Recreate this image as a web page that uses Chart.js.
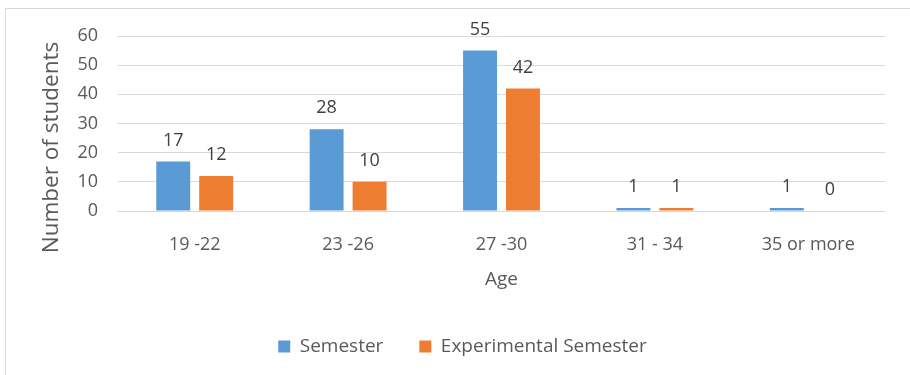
<!DOCTYPE html>
<html>
<head>
<meta charset="utf-8">
<script src="https://cdn.jsdelivr.net/npm/chart.js@4.4.1/dist/chart.umd.min.js"></script>
<style>
 html, body { margin: 0; padding: 0; background: #fff; }
 #wrap { position: relative; width: 910px; height: 375px; overflow: hidden; }
 #frame { position: absolute; left: 5px; top: 8px; width: 1000px; height: 500px; border: 1px solid #d9d9d9; box-sizing: border-box; }
 #ageChart { position: absolute; left: 0; top: 0; }
</style>
</head>
<body>
<div id="wrap">
 <div id="frame"></div>
 <canvas id="ageChart" width="910" height="375"></canvas>
</div>
<script>
var ageGroups = ["19 -22", "23 -26", "27 -30", "31 - 34", "35 or more"];
var semesterCounts = [17, 28, 55, 1, 1];
var experimentalCounts = [12, 10, 42, 1, 0];
var yTicks = [0, 10, 20, 30, 40, 50, 60];

var textColor = "#595959";
var fontFamily = "'Open Sans', Lato, sans-serif";

// value labels above each bar
var barValueLabels = {
 id: "barValueLabels",
 afterDatasetsDraw: function (chart) {
  var ctx = chart.ctx;
  ctx.save();
  ctx.fillStyle = "#404040";
  ctx.font = "18px " + fontFamily;
  ctx.textAlign = "center";
  ctx.textBaseline = "middle";
  chart.data.datasets.forEach(function (ds, i) {
   chart.getDatasetMeta(i).data.forEach(function (bar, j) {
    ctx.fillText(ds.data[j], bar.x, bar.y - 21);
   });
  });
  ctx.restore();
 }
};

// y title sits lower than the plot centre, so draw it by hand
var yAxisTitle = {
 id: "yAxisTitle",
 afterDraw: function (chart) {
  var ctx = chart.ctx;
  var y = chart.scales.y;
  ctx.save();
  ctx.translate(52, (y.top + y.bottom) / 2 + 24);
  ctx.rotate(-Math.PI / 2);
  ctx.fillStyle = textColor;
  ctx.font = "22.5px " + fontFamily;
  ctx.textAlign = "center";
  ctx.textBaseline = "middle";
  ctx.fillText("Number of students", 0, 0);
  ctx.restore();
 }
};

new Chart(document.getElementById("ageChart"), {
 type: "bar",
 data: {
  labels: ageGroups,
  datasets: [
   {
    label: "Semester",
    data: semesterCounts,
    backgroundColor: "#5b9bd5",
    categoryPercentage: 0.56,
    barPercentage: 0.79,
   },
   {
    label: "Experimental Semester",
    data: experimentalCounts,
    backgroundColor: "#ed7d31",
    categoryPercentage: 0.56,
    barPercentage: 0.79,
   },
  ],
 },
 options: {
  responsive: false,
  animation: false,
  layout: { padding: { left: 40, right: 25, top: 36, bottom: 9 } },
  plugins: {
   tooltip: { enabled: false },
   legend: {
    position: "bottom",
    labels: {
     color: textColor,
     font: { family: fontFamily, size: 19 },
     boxWidth: 12,
     boxHeight: 12,
     padding: 36,
    },
   },
  },
  scales: {
   x: {
    grid: { display: false },
    border: { display: false },
    ticks: { color: textColor, font: { family: fontFamily, size: 18 }, padding: 15 },
    title: {
     display: true,
     text: "Age",
     color: textColor,
     font: { family: fontFamily, size: 19 },
     padding: { top: 0, bottom: 10 },
    },
    afterFit: function (axis) { axis.height = 90; },
   },
   y: {
    min: 0,
    max: 60,
    afterBuildTicks: function (axis) {
     axis.ticks = yTicks.map(function (v) { return { value: v }; });
    },
    grid: { color: "#d9d9d9", drawTicks: false },
    border: { display: false },
    ticks: { color: textColor, font: { family: fontFamily, size: 18 }, padding: 20 },
    afterFit: function (axis) { axis.width = 78; },
   },
  },
 },
 plugins: [barValueLabels, yAxisTitle],
});
</script>
</body>
</html>
